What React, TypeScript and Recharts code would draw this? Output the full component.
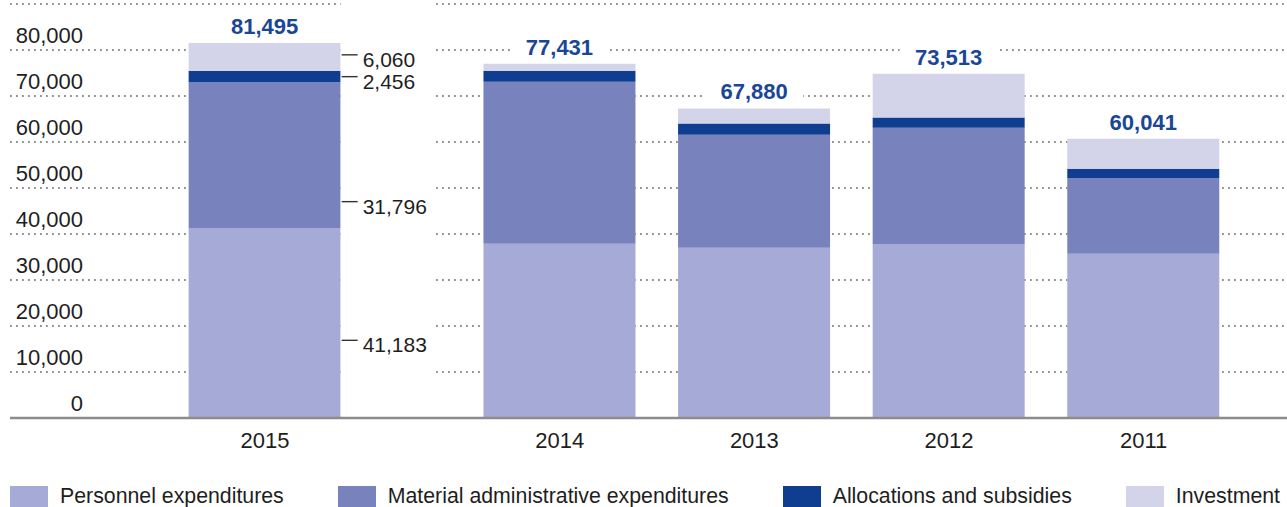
import React from 'react';
import { BarChart, Bar, XAxis, YAxis, CartesianGrid, LabelList } from 'recharts';

// ---------- data ----------
const years = ['2015', '2014', '2013', '2012', '2011'];
const personnel = [41183, 37900, 37000, 37700, 35700];
const material = [31796, 35200, 24600, 25400, 16500];
const allocations = [2456, 2400, 2400, 2200, 2000];
const investment = [6060, 1500, 3300, 9550, 6500];
const totals = [81495, 77431, 67880, 73513, 60041];
const yTicks = [0, 10000, 20000, 30000, 40000, 50000, 60000, 70000, 80000];

// ---------- styling / layout constants ----------
const FONT = '"Liberation Sans", Arial, Helvetica, sans-serif';
const TEXT = '#1e1e1e';
const TOTAL_COLOR = '#1a4696';
const FIRST_GROUP_GAP = 0.515; // extra space after the first (annotated) year
const W = 1287;
const H = 507;

const SERIES = [
  { key: 'personnel', name: 'Personnel expenditures', color: '#a6aad7', values: personnel, leaderFrac: 0.59 },
  { key: 'material', name: 'Material administrative expenditures', color: '#7882bd', values: material, leaderFrac: 0.816 },
  { key: 'allocations', name: 'Allocations and subsidies', color: '#0f3e91', values: allocations, leaderFrac: 0.5 },
  { key: 'investment', name: 'Investment', color: '#d3d4ea', values: investment, leaderFrac: 0.42 },
];

const table = years.map((year, i) => {
  const row: any = { year, slot: i === 0 ? 0 : i + FIRST_GROUP_GAP, total: totals[i] };
  SERIES.forEach((s) => {
    row[s.key] = s.values[i];
  });
  return row;
});

const fmt = (v: number) => Number(v).toLocaleString('en-US');

const getBox = (props: any) => {
  const vb = props.viewBox || {};
  return {
    x: vb.x ?? props.x,
    y: vb.y ?? props.y,
    width: vb.width ?? props.width,
    height: vb.height ?? props.height,
  };
};

const makeLeader = (frac: number, drawStrip: boolean) => (props: any) => {
  const { index, value } = props;
  if (index !== 0) return null;
  const { x, y, width, height } = getBox(props);
  const right = x + width;
  const ly = y + height * frac;
  return (
    <g>
      {drawStrip && <rect x={right} y={0} width={92} height={416} fill="#ffffff" />}
      <line x1={right + 1} x2={right + 17} y1={ly} y2={ly} stroke="#333" strokeWidth={1.4} />
      <text x={right + 22} y={ly + 12} fontSize={21} fontFamily={FONT} fill={TEXT}>
        {fmt(value)}
      </text>
    </g>
  );
};

const TotalLabel = (props: any) => {
  const { index } = props;
  const { x, y, width } = getBox(props);
  const cx = x + width / 2;
  const base = y - 9;
  return (
    <g>
      <rect x={cx - 49} y={base - 20} width={98} height={25} fill="#ffffff" />
      <text x={cx} y={base} textAnchor="middle" fontSize={22} fontWeight="bold" fontFamily={FONT} fill={TOTAL_COLOR}>
        {fmt(totals[index])}
      </text>
    </g>
  );
};

const XTick = (props: any) => {
  const { x, y, payload } = props;
  const row = table.find((r) => Math.abs(r.slot - payload.value) < 1e-6);
  return (
    <text x={x} y={y + 30} textAnchor="middle" fontSize={22} fontFamily={FONT} fill={TEXT}>
      {row ? row.year : ''}
    </text>
  );
};

const YTick = (props: any) => {
  const { y, payload } = props;
  return (
    <text x={83} y={y - 7} textAnchor="end" fontSize={22} fontFamily={FONT} fill={TEXT}>
      {fmt(payload.value)}
    </text>
  );
};

export default function App() {
  return (
    <div
      style={{
        position: 'absolute',
        left: 0,
        top: 0,
        width: W,
        height: H,
        overflow: 'hidden',
        background: '#ffffff',
        fontFamily: FONT,
      }}
    >
      <BarChart width={W} height={H} data={table} margin={{ top: 4, right: 0, bottom: 49, left: 9 }}>
        <CartesianGrid horizontal vertical={false} stroke="#8f8f8f" strokeWidth={1.8} strokeDasharray="1.8 4.2" />
        <XAxis
          type="number"
          dataKey="slot"
          domain={[-1.31, 5.252]}
          ticks={table.map((r) => r.slot)}
          interval={0}
          axisLine={{ stroke: '#8c8c8c', strokeWidth: 2.5 }}
          tickLine={false}
          tickSize={0}
          tickMargin={0}
          height={40}
          tick={<XTick />}
        />
        <YAxis
          type="number"
          domain={[0, 90000]}
          ticks={yTicks}
          interval={0}
          width={1}
          axisLine={false}
          tickLine={false}
          tick={<YTick />}
        />
        {SERIES.map((s, si) => (
          <Bar key={s.key} dataKey={s.key} name={s.name} stackId="a" fill={s.color} barSize={152} isAnimationActive={false}>
            <LabelList dataKey={s.key} content={makeLeader(s.leaderFrac, si === 0)} />
            {si === SERIES.length - 1 && <LabelList dataKey="total" content={TotalLabel} />}
          </Bar>
        ))}
      </BarChart>
      <div
        style={{
          position: 'absolute',
          left: 10,
          top: 486,
          display: 'flex',
          gap: 54,
          alignItems: 'flex-start',
          whiteSpace: 'nowrap',
        }}
      >
        {SERIES.map((s) => (
          <div key={s.key} style={{ display: 'flex', alignItems: 'flex-start' }}>
            <div style={{ width: 38, height: 26, background: s.color, marginTop: 0, marginRight: 12 }} />
            <span style={{ fontSize: 21.3, color: TEXT, lineHeight: '20px', fontFamily: FONT, display: 'block' }}>
              {s.name}
            </span>
          </div>
        ))}
      </div>
    </div>
  );
}
